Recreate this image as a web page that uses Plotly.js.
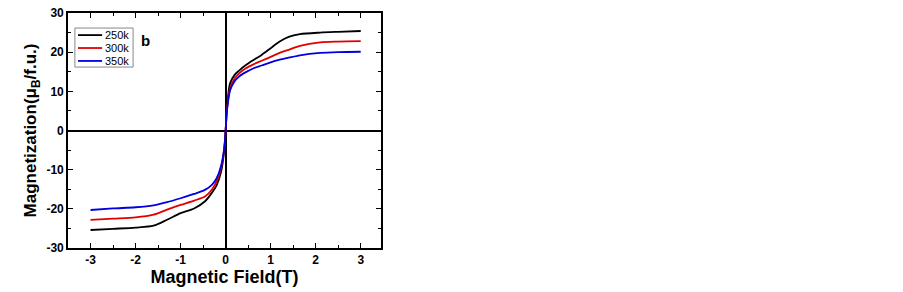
<!DOCTYPE html>
<html><head><meta charset="utf-8">
<script src="https://cdn.plot.ly/plotly-3.0.1.min.js"></script>
<style>body{margin:0;background:#fff}#c{width:903px;height:292px}</style>
</head><body><div id="c"></div>
<script>
const field = [-3, -2.5, -2, -1.6, -1.3, -1, -0.7, -0.45, -0.3, -0.2, -0.1, -0.03, 0, 0.03, 0.1, 0.2, 0.3, 0.45, 0.62, 0.8, 1.0, 1.2, 1.4, 1.65, 2.1, 2.5, 3];
const m250 = [-25.4, -25.1, -24.8, -24.3, -22.8, -21.1, -19.9, -18.0, -15.8, -14.0, -10.5, -5.0, 0, 6.0, 12.1, 14.2, 15.3, 16.7, 18.0, 19.3, 21.0, 22.7, 23.9, 24.6, 25.0, 25.2, 25.4];
const m300 = [-22.8, -22.5, -22.2, -21.5, -20.2, -19.0, -17.9, -16.8, -15.0, -13.0, -9.5, -4.5, 0, 5.5, 10.8, 13.3, 14.6, 15.9, 16.9, 17.8, 18.8, 19.8, 20.6, 21.6, 22.5, 22.7, 22.8];
const m350 = [-20.3, -19.9, -19.6, -19.1, -18.3, -17.3, -16.2, -15.1, -13.8, -12.2, -9.0, -4.5, 0, 5.0, 10.3, 12.6, 13.8, 14.9, 15.9, 16.6, 17.4, 18.1, 18.6, 19.2, 19.8, 20.0, 20.1];
const names = ['250k', '300k', '350k'];
const colors = ['#000000', '#e00000', '#0000e0'];
const series = [m250, m300, m350];
const xTicks = [-3, -2, -1, 0, 1, 2, 3];
const xTickText = ['-3', '-2', '-1', '0', '1', '2', '3'];
const yTicks = [-30, -20, -10, 0, 10, 20, 30];
const yTickText = ['-30', '-20', '-10', '0', '10', '20', '30'];

const FONT = 'Liberation Sans, Arial, sans-serif';

const traces = series.map((s, i) => ({
  x: field, y: s, name: names[i], type: 'scatter', mode: 'lines', showlegend: false,
  line: {color: colors[i], width: 1.8, shape: 'spline', smoothing: 0.8}
}));

const axBase = {
  showgrid: false, showline: true, linecolor: '#000', linewidth: 1.8, mirror: 'allticks',
  ticks: 'inside', ticklen: 5, tickwidth: 1, tickcolor: '#000',
  zeroline: true, zerolinecolor: '#000', zerolinewidth: 2,
  tickfont: {family: FONT, size: 12, color: '#000', weight: 'bold'}
};

// manual compact legend (paper coords inside the plot area)
const legTop = 0.936, legStep = 0.055;
const shapes = [{type: 'rect', xref: 'paper', yref: 'paper', x0: 0.022, x1: 0.208, y0: 0.770, y1: legTop,
  line: {color: '#888', width: 1}, fillcolor: '#fff', layer: 'above'}];
const annotations = [];
names.forEach((n, i) => {
  const yy = 0.906 - i * legStep;
  shapes.push({type: 'line', xref: 'paper', yref: 'paper', x0: 0.032, x1: 0.109, y0: yy, y1: yy,
    line: {color: colors[i], width: 1.8}, layer: 'above'});
  annotations.push({xref: 'paper', yref: 'paper', x: 0.113, y: yy, xanchor: 'left', yanchor: 'middle',
    text: n, showarrow: false, font: {family: FONT, size: 11, color: '#000'}});
});
annotations.push({x: -1.78, y: 23.1, xref: 'x', yref: 'y', text: '<b>b</b>', showarrow: false,
  font: {family: FONT, size: 15, color: '#000'}});

const layout = {
  width: 903, height: 292,
  margin: {l: 68, r: 522, t: 13, b: 44},
  paper_bgcolor: '#fff', plot_bgcolor: '#fff',
  showlegend: false,
  xaxis: Object.assign({}, axBase, {
    range: [-3.5, 3.45], tickmode: 'array', tickvals: xTicks, ticktext: xTickText,
    minor: {dtick: 0.5, tick0: 0, ticks: 'inside', ticklen: 3, tickcolor: '#000'},
    title: {text: 'Magnetic Field(T)', standoff: 3, font: {family: FONT, size: 18, color: '#000', weight: 'bold'}}
  }),
  yaxis: Object.assign({}, axBase, {
    range: [-30, 30], tickmode: 'array', tickvals: yTicks, ticktext: yTickText,
    minor: {dtick: 5, tick0: 0, ticks: 'inside', ticklen: 3, tickcolor: '#000'},
    title: {text: 'Magnetization(μ<sub>B</sub>/f.u.)', standoff: 5, font: {family: FONT, size: 17, color: '#000', weight: 'bold'}}
  }),
  shapes: shapes,
  annotations: annotations
};

Plotly.newPlot('c', traces, layout, {displayModeBar: false, staticPlot: true});
</script></body></html>
